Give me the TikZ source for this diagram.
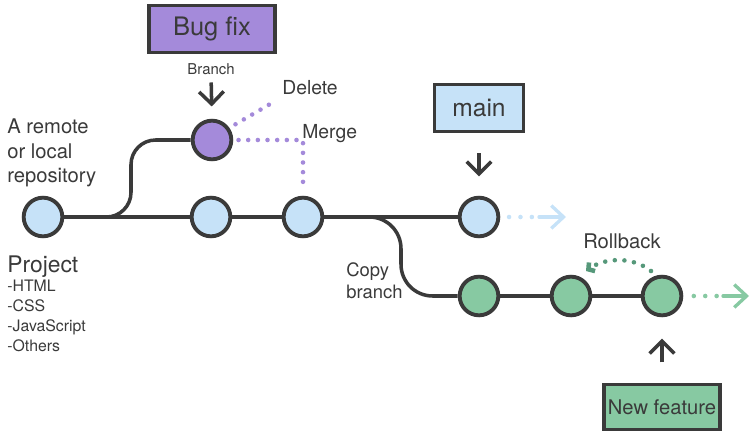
\documentclass[tikz,border=0pt]{standalone}
\usepackage{fontspec}
\setmainfont{TeX Gyre Heros}
\usetikzlibrary{positioning,arrows.meta}
\definecolor{commitblue}{HTML}{C6E2F8}
\definecolor{bugpurple}{HTML}{A48ADA}
\definecolor{featgreen}{HTML}{87C9A2}
\definecolor{inkgray}{HTML}{3A3A3A}
\definecolor{rollgreen}{HTML}{56987A}
\tikzset{
  >={Straight Barb[length=7pt,width=14pt]},
  commit/.style={circle, draw=inkgray, line width=2.2pt, minimum size=22pt, inner sep=0pt},
  tagbox/.style={rectangle, draw=inkgray, line width=2pt, inner sep=2pt, text=inkgray},
  track/.style={draw=inkgray, line width=2pt},
  pointer/.style={draw=inkgray, line width=2pt, ->},
  dotline/.style={line width=2.6pt, line cap=round, dash pattern=on 0pt off 5.5pt},
  tailarrow/.style={line width=1.9pt, line cap=round, -{Straight Barb[length=7pt,width=13pt]}},
  txt/.style={inner sep=0pt, text=inkgray}
}

\begin{document}
\begin{tikzpicture}[x=0.02cm, y=-0.02cm]
  \useasboundingbox (0,0) rectangle (750,433);

  % Commits on the main line.
  \node[commit, fill=commitblue] (repo) at (43,217) {};
  \node[commit, fill=commitblue] (c1) at (211,217) {};
  \node[commit, fill=commitblue] (c2) at (303,217) {};
  \node[commit, fill=commitblue] (head) at (479,217) {};
  % Commit on the bug fix branch.
  \node[commit, fill=bugpurple] (bug) at (212,140) {};
  % Commits on the feature branch.
  \node[commit, fill=featgreen] (f1) at (479,296) {};
  \node[commit, fill=featgreen] (f2) at (571,296) {};
  \node[commit, fill=featgreen] (f3) at (662,296) {};

  % Draw the lines between commits.
  \draw[track] (repo) -- (c1) -- (c2) -- (head);
  \draw[track] (f1) -- (f2) -- (f3);
  \draw[track, rounded corners=14pt] (repo) -- (131,217) -- (131,140) -- (bug);
  \draw[track, rounded corners=18pt] (c2) -- (401,217) -- (401,296) -- (f1);

  % Branch tags.
  \node[tagbox, fill=bugpurple, minimum width=72pt, minimum height=26.6pt,
        font=\fontsize{14.5}{17}\selectfont] (bugbox) at (212,29) {Bug fix};
  \node[tagbox, fill=commitblue, minimum width=50.5pt, minimum height=26.6pt,
        font=\fontsize{14}{17}\selectfont] (mainbox) at (479,108) {main};
  \node[tagbox, fill=featgreen, minimum width=65.8pt, minimum height=25.5pt,
        font=\fontsize{11.5}{14}\selectfont] (featbox) at (662,407) {New feature};

  % Pointers from the tags to the commits.
  \node[txt, anchor=base, font=\fontsize{8.5}{10}\selectfont] (branchlbl) at (211,74) {Branch};
  \draw[pointer, shorten <=4.5pt, shorten >=7pt] (branchlbl.south) -- (bug.north);
  \draw[pointer, shorten <=11.4pt, shorten >=11pt] (mainbox.south) -- (head.north);
  \draw[pointer, shorten <=11.6pt, shorten >=12.2pt] (featbox.north) -- (f3.south);

  % Delete and merge of the bug fix.
  \coordinate (delend) at (277,100);
  \draw[dotline, bugpurple, shorten <=4pt] (bug.35) -- (delend);
  \draw[dotline, bugpurple, shorten <=3pt, shorten >=3pt] (bug.east) -| (c2.north);
  \node[txt, anchor=base west, font=\fontsize{11}{13}\selectfont] (dellbl) at (282,94) {Delete};
  \node[txt, anchor=base west, font=\fontsize{11}{13}\selectfont] (mergelbl) at (302,138) {Merge};

  % Lines going on past the last commits.
  \coordinate (maindots) at (533,217);
  \coordinate (mainarrow) at (539,217);
  \coordinate (mainend) at (566,217);
  \draw[dotline, commitblue, dash pattern=on 0pt off 6.5pt, shorten <=5pt] (head.east) -- (maindots);
  \draw[tailarrow, commitblue] (mainarrow) -- (mainend);
  \coordinate (featdots) at (717,296);
  \coordinate (featarrow) at (723,296);
  \coordinate (featend) at (749,296);
  \draw[dotline, featgreen, dash pattern=on 0pt off 6.5pt, shorten <=6pt] (f3.east) -- (featdots);
  \draw[tailarrow, featgreen] (featarrow) -- (featend);

  % Rollback.
  \coordinate (rbstart) at (651,271);
  \coordinate (rbend) at (586,271);
  \draw[dotline, rollgreen, -{Straight Barb[length=2.5pt,width=6pt]}]
    (rbstart) .. controls (634,257) and (606,257) .. (rbend);
  \node[txt, anchor=base, font=\fontsize{11.5}{14}\selectfont] (rblbl) at (622,248) {Rollback};

  % Labels on the left and at the copy.
  \node[txt, anchor=north west, align=left, font=\fontsize{11.5}{14.2}\selectfont]
    (repolbl) at (7,118) {A remote\\or local\\repository};
  \node[txt, anchor=north west, font=\fontsize{13}{15}\selectfont] (projlbl) at (7,255) {Project};
  \node[txt, below right=1.5pt and 0pt of projlbl.south west, align=left,
        font=\fontsize{9}{11.3}\selectfont] (projlist) {-HTML\\-CSS\\-JavaScript\\-Others};
  \node[txt, anchor=north west, align=left, font=\fontsize{10.5}{13}\selectfont]
    (copylbl) at (346,262) {Copy\\branch};
\end{tikzpicture}
\end{document}
